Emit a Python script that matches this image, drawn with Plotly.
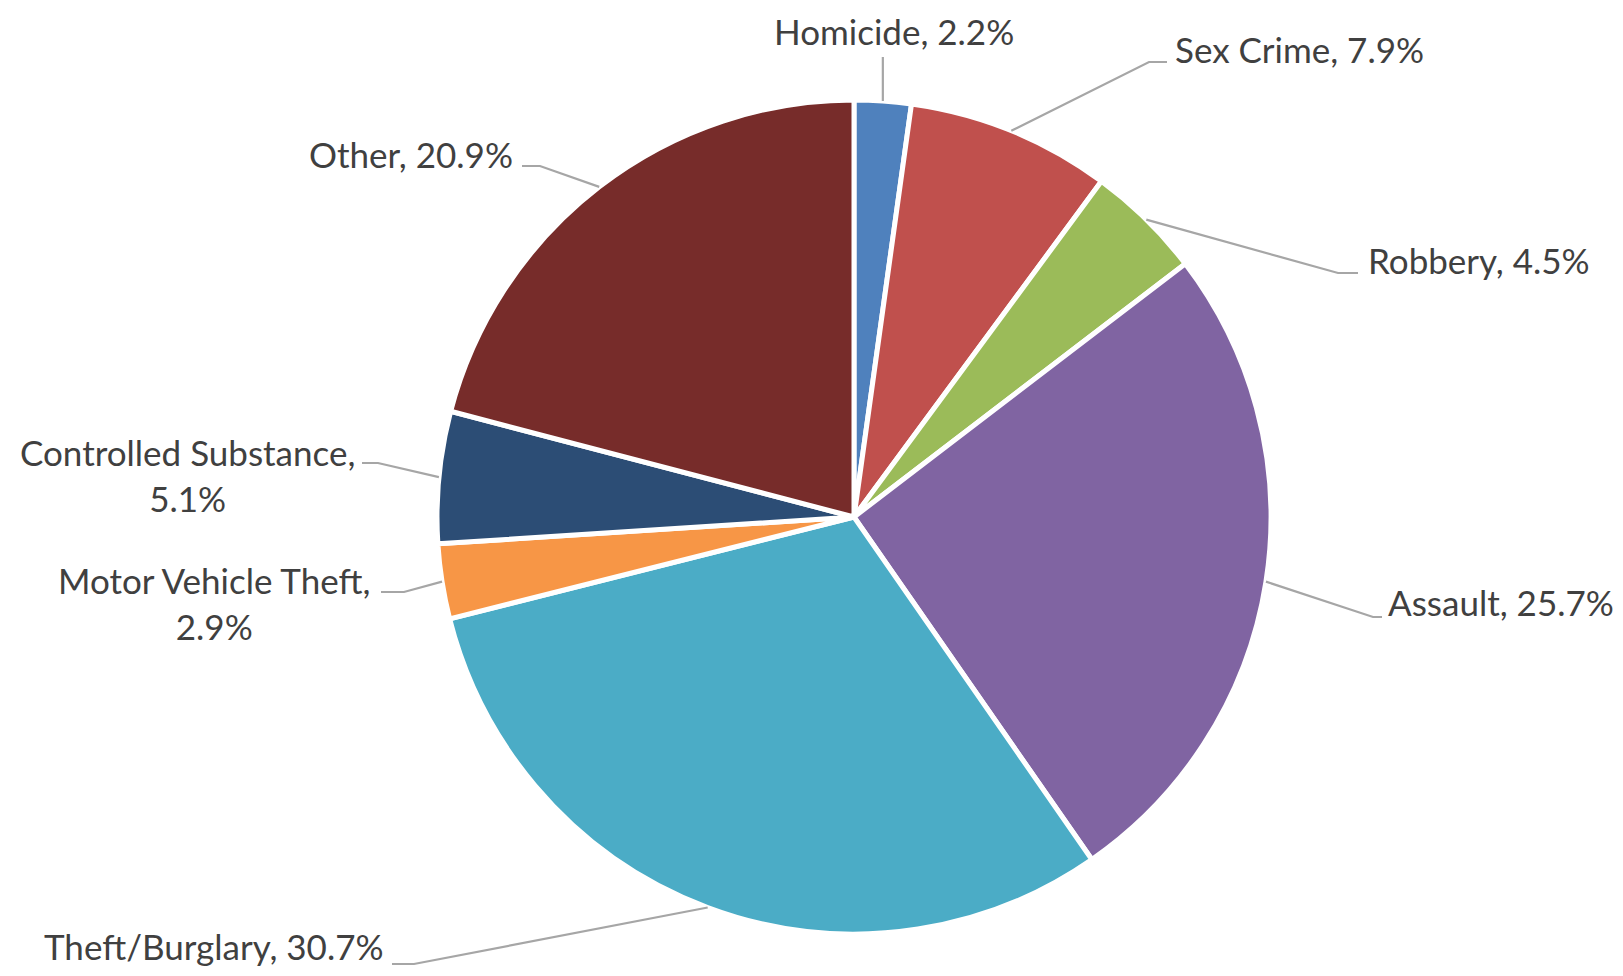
import math
import plotly.graph_objects as go

# ---------------- data ----------------
categories = ["Homicide", "Sex Crime", "Robbery", "Assault", "Theft/Burglary",
              "Motor Vehicle Theft", "Controlled Substance", "Other"]
shares = [2.2, 7.9, 4.5, 25.7, 30.7, 2.9, 5.1, 20.9]
colors = ["#4F81BD", "#C0504D", "#9BBB59", "#8064A2", "#4BACC6",
          "#F79646", "#2C4D75", "#772C2A"]
two_line = [False, False, False, False, False, True, True, False]

# ---------------- layout (page pixels) ----------------
PAGE_W, PAGE_H = 1623, 976
OFF = 8                      # default body margin of the html page
W, H = PAGE_W - 2 * OFF, PAGE_H - 2 * OFF
CX, CY, R = 854, 517, 417

# per-label layout: elbow point, end of leader, text anchor, xanchor
label_layout = [
    dict(elbow=None, end=(None, 57), text=(894, 31), xanchor="center"),
    dict(elbow=(1149, 62), end=(1167, 62), text=(1173, 49), xanchor="left"),
    dict(elbow=(1338, 273), end=(1358, 273), text=(1366, 260), xanchor="left"),
    dict(elbow=(1373, 617), end=(1382, 617), text=(1386, 602), xanchor="left"),
    dict(elbow=(414, 964), end=(392, 964), text=(386, 946), xanchor="right"),
    dict(elbow=(404, 592), end=(381, 592), text=(372, 603), xanchor="right"),
    dict(elbow=(378, 463), end=(362, 463), text=(357, 475), xanchor="right"),
    dict(elbow=(540, 166), end=(522, 166), text=(515, 154), xanchor="right"),
]

FONT = "Lato"
FONT_SIZE = 35
TEXT_COLOR = "#404040"
LINE_COLOR = "#A6A6A6"


def px(x):
    return (x - OFF) / W


def py(y):
    return 1 - (y - OFF) / H


fig = go.Figure(go.Pie(
    labels=categories,
    values=shares,
    sort=False,
    direction="clockwise",
    rotation=0,
    marker=dict(colors=colors, line=dict(color="white", width=5)),
    textinfo="none",
    hoverinfo="label+percent",
    showlegend=False,
    domain=dict(x=[px(CX - R), px(CX + R)], y=[py(CY + R), py(CY - R)]),
))

total = sum(shares)
cum = 0.0
annotations = []
shapes = []
for cat, val, brk, lay in zip(categories, shares, two_line, label_layout):
    mid = (cum + val / 2) / total
    cum += val
    ang = 2 * math.pi * mid
    sx = CX + R * math.sin(ang)
    sy = CY - R * math.cos(ang)
    pts = [(sx, sy)]
    if lay["elbow"] is not None:
        pts.append(lay["elbow"])
        pts.append(lay["end"])
    else:
        pts.append((sx, lay["end"][1]))
    path = "M " + " L ".join(f"{px(x):.5f},{py(y):.5f}" for x, y in pts)
    shapes.append(dict(type="path", path=path, xref="paper", yref="paper",
                       line=dict(color=LINE_COLOR, width=2.2)))
    txt = f"{cat}," + ("<br>" if brk else " ") + f"{val}%"
    tx, ty = lay["text"]
    annotations.append(dict(
        x=px(tx), y=py(ty), xref="paper", yref="paper",
        text=txt, showarrow=False, xanchor=lay["xanchor"], yanchor="middle",
        align="center", font=dict(family=FONT, size=FONT_SIZE, color=TEXT_COLOR),
    ))

fig.update_layout(
    width=W, height=H,
    margin=dict(l=0, r=0, t=0, b=0),
    paper_bgcolor="white", plot_bgcolor="white",
    annotations=annotations, shapes=shapes,
)

fig.write_html("out.html")
